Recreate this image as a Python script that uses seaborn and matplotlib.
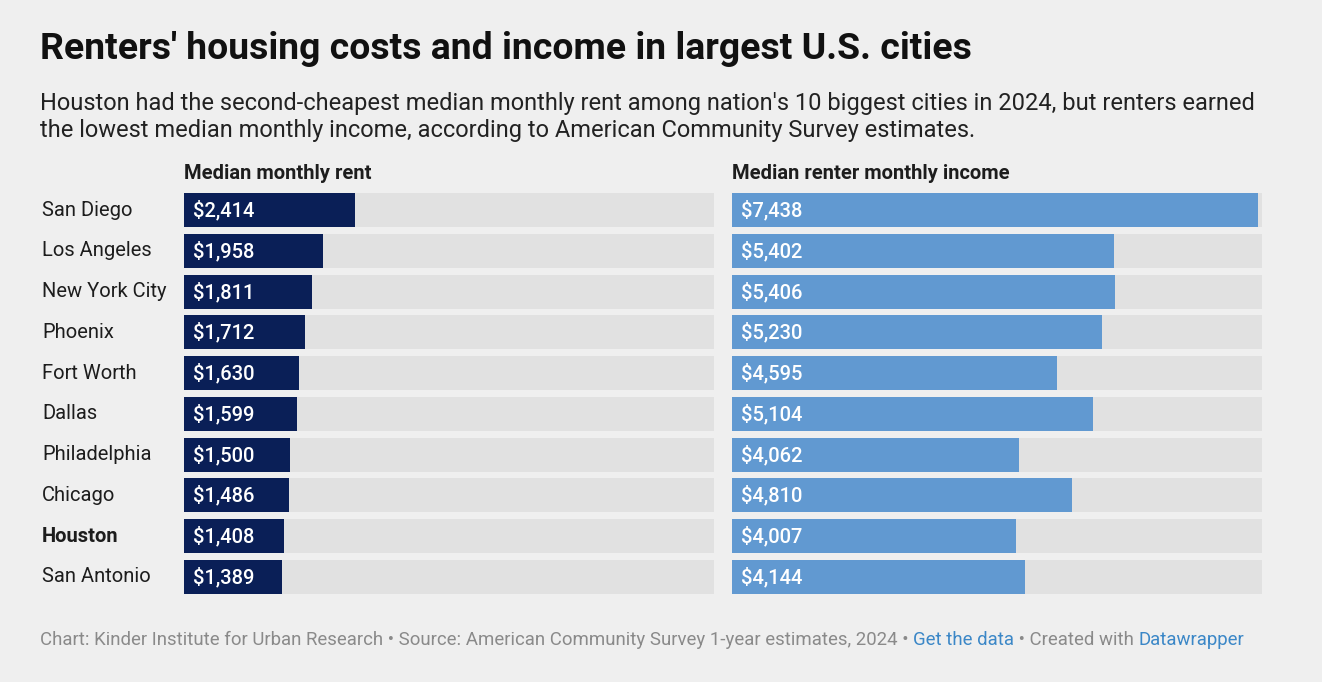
import pandas as pd
import matplotlib.pyplot as plt
import seaborn as sns

# datos
cities = ['San Diego', 'Los Angeles', 'New York City', 'Phoenix', 'Fort Worth',
          'Dallas', 'Philadelphia', 'Chicago', 'Houston', 'San Antonio']
rent = [2414, 1958, 1811, 1712, 1630, 1599, 1500, 1486, 1408, 1389]
income = [7438, 5402, 5406, 5230, 4595, 5104, 4062, 4810, 4007, 4144]
x_max = 7490

df = pd.DataFrame({'city': cities, 'rent': rent, 'income': income})
df['track'] = x_max

sns.set_style('white')
plt.rcParams['font.family'] = ['Roboto', 'DejaVu Sans']

bg = '#efefef'
fig = plt.figure(figsize=(13.22, 6.82), dpi=100, facecolor=bg)

ax1 = fig.add_axes([184 / 1322, 1 - 594 / 682, 530 / 1322, 401 / 682])
ax2 = fig.add_axes([732 / 1322, 1 - 594 / 682, 530 / 1322, 401 / 682])

panels = [(ax1, 'rent', '#0a1f57', 'Median monthly rent'),
          (ax2, 'income', '#6199d1', 'Median renter monthly income')]

for ax, col, color, head in panels:
    ax.set_facecolor(bg)
    sns.barplot(data=df, y='city', x='track', color='#e1e1e1', width=0.84,
                orient='h', ax=ax, saturation=1, linewidth=0)
    sns.barplot(data=df, y='city', x=col, color=color, width=0.84,
                orient='h', ax=ax, saturation=1, linewidth=0)
    for i, v in enumerate(df[col]):
        ax.text(9 * x_max / 530, i, f'${v:,}', color='white', fontsize=14.5,
                fontweight='medium', va='center', ha='left')
    ax.set_xlim(0, x_max)
    ax.set_ylim(9.42, -0.42)
    ax.set_xlabel('')
    ax.set_ylabel('')
    ax.set_xticks([])
    for s in ax.spines.values():
        s.set_visible(False)
    ax.text(0, -0.66, head, fontsize=14.5, fontweight='bold', color='#1d1d1d',
            ha='left', va='bottom')

ax2.set_yticks([])
ax1.tick_params(axis='y', length=0, pad=0)
ax1.set_yticks(range(len(cities)))
ax1.set_yticklabels([])
for i, c in enumerate(cities):
    ax1.text(-142 * x_max / 530, i, c, fontsize=14.5, color='#1d1d1d', va='center',
             ha='left', fontweight='bold' if c == 'Houston' else 'normal')

fig.text(40 / 1322, 1 - 49 / 682, "Renters' housing costs and income in largest U.S. cities",
         fontsize=26.9, fontweight='bold', color='#111111', va='center', ha='left')
fig.text(40 / 1322, 1 - 117 / 682,
         "Houston had the second-cheapest median monthly rent among nation's 10 biggest cities in 2024, but renters earned\n"
         "the lowest median monthly income, according to American Community Survey estimates.",
         fontsize=17, color='#222222', va='center', ha='left', linespacing=1.2)

# pie de figura
foot_y = 1 - 645 / 682
t1 = fig.text(40 / 1322, foot_y,
              'Chart: Kinder Institute for Urban Research \u2022 Source: American Community Survey 1-year estimates, 2024 \u2022 ',
              fontsize=13.4, color='#8a8a8a', va='baseline', ha='left')
fig.canvas.draw()
r = fig.canvas.get_renderer()
bb = t1.get_window_extent(r)
t2 = fig.text(bb.x1 / 1322, foot_y, 'Get the data', fontsize=13.4, color='#3b87c7', va='baseline', ha='left')
bb = t2.get_window_extent(r)
t3 = fig.text(bb.x1 / 1322, foot_y, ' \u2022 Created with ', fontsize=13.4, color='#8a8a8a', va='baseline', ha='left')
bb = t3.get_window_extent(r)
fig.text(bb.x1 / 1322, foot_y, 'Datawrapper', fontsize=13.4, color='#3b87c7', va='baseline', ha='left')

plt.savefig('out.png', dpi=100, facecolor=bg)
